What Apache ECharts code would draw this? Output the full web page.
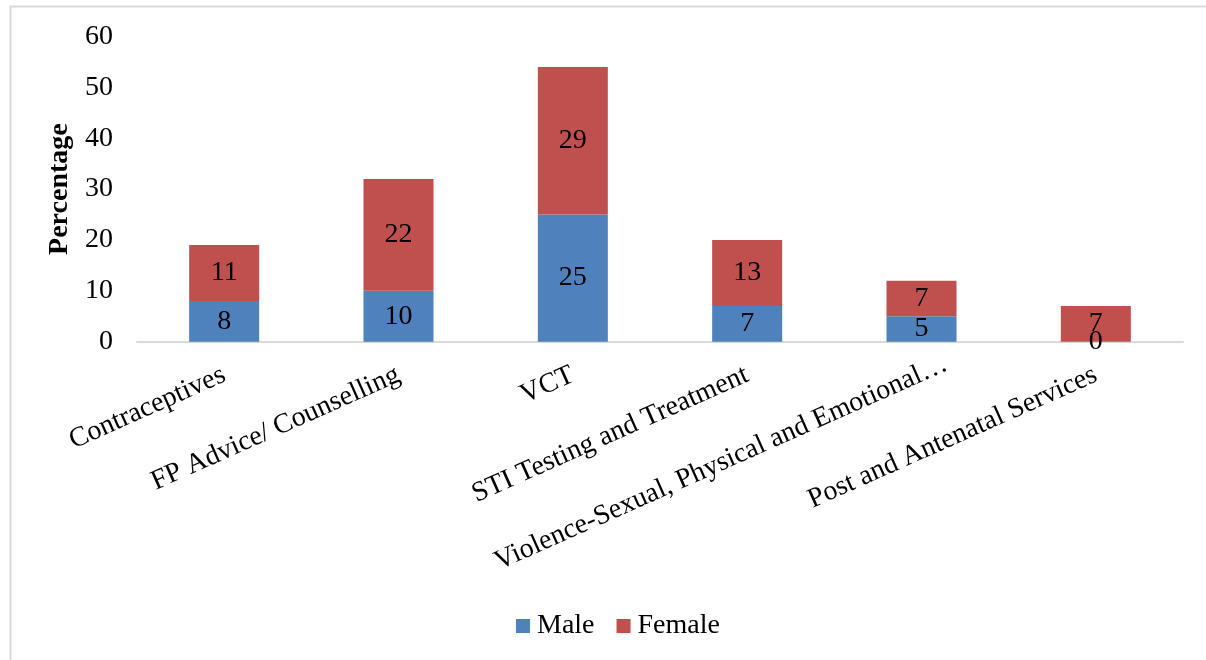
<!DOCTYPE html>
<html>
<head>
<meta charset="utf-8">
<script src="https://cdn.jsdelivr.net/npm/echarts@6/dist/echarts.min.js"></script>
<style>
html,body{margin:0;padding:0;background:#fff;}
#c{width:1206px;height:660px;}
</style>
</head>
<body>
<div id="c"></div>
<script>
const categories = ['Contraceptives', 'FP Advice/ Counselling', 'VCT', 'STI Testing and Treatment', 'Violence-Sexual, Physical and Emotional\u2026', 'Post and Antenatal Services'];
const maleValues = [8, 10, 25, 7, 5, 0];
const femaleValues = [11, 22, 29, 13, 7, 7];
const yTicks = [0, 10, 20, 30, 40, 50, 60];

const FONT = '"Liberation Serif", "Times New Roman", serif';
const chart = echarts.init(document.getElementById('c'), null, {renderer: 'canvas'});

const labelStyle = {
  show: true,
  position: 'inside',
  color: '#000',
  fontFamily: FONT,
  fontSize: 28
};

// the truncated category label sits further right in the reference
const categoryItems = categories.map(function (c, i) {
  return i === 4 ? {value: c, textStyle: {padding: [0, -27, 0, 0]}} : c;
});

chart.setOption({
  animation: false,
  backgroundColor: '#fff',
  graphic: [{
    type: 'rect',
    shape: {x: 10.5, y: 6.5, width: 1300, height: 800},
    style: {fill: 'none', stroke: '#d9d9d9', lineWidth: 2},
    silent: true,
    z: -1
  }],
  grid: {left: 137, right: 23, top: 36.5, bottom: 318.3, containLabel: false},
  legend: {
    data: ['Male', 'Female'],
    left: 511,
    top: 607,
    itemWidth: 14,
    itemHeight: 14,
    itemGap: 22,
    icon: 'rect',
    textStyle: {fontFamily: FONT, fontSize: 28, color: '#000', padding: [0, 0, 0, 2]}
  },
  xAxis: {
    type: 'category',
    data: categoryItems,
    axisLine: {lineStyle: {color: '#d9d9d9', width: 2}},
    axisTick: {show: false},
    axisLabel: {
      interval: 0,
      rotate: 24,
      margin: 32,
      color: '#000',
      fontFamily: FONT,
      fontSize: 28
    }
  },
  yAxis: {
    type: 'value',
    min: 0,
    max: 60,
    interval: 10,
    name: 'Percentage',
    nameLocation: 'middle',
    nameGap: 62,
    nameTextStyle: {fontFamily: FONT, fontSize: 28, fontWeight: 'bold', color: '#000'},
    splitLine: {show: false},
    axisLine: {show: false},
    axisTick: {show: false},
    axisLabel: {
      margin: 24,
      color: '#000',
      fontFamily: FONT,
      fontSize: 28,
      formatter: function (v) { return yTicks.indexOf(v) >= 0 ? String(v) : ''; }
    }
  },
  series: [
    {
      name: 'Male',
      type: 'bar',
      stack: 'total',
      data: maleValues,
      barWidth: 70,
      itemStyle: {color: '#4f81bd'},
      label: labelStyle
    },
    {
      name: 'Female',
      type: 'bar',
      stack: 'total',
      data: femaleValues,
      barWidth: 70,
      itemStyle: {color: '#c0504d'},
      label: labelStyle
    }
  ]
});
</script>
</body>
</html>
